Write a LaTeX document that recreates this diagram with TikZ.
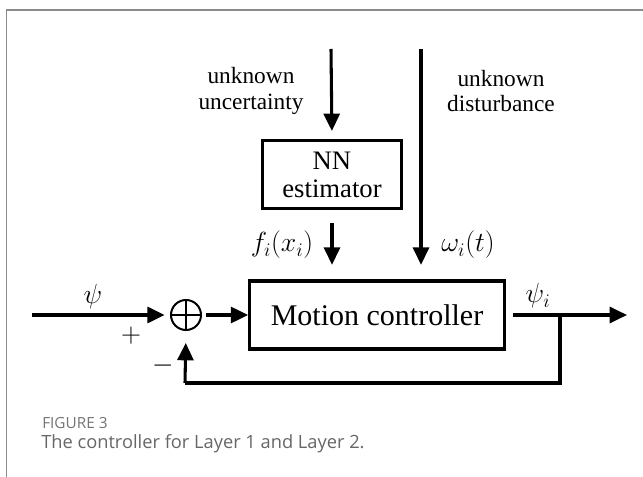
\documentclass[tikz,border=0pt]{standalone}
\usepackage{fontspec}
\setmainfont{Liberation Serif}
\newfontfamily\capfont{Open Sans}
\usepackage{tikz}
\usetikzlibrary{arrows.meta, positioning, calc}
\tikzset{
  blockbox/.style={rectangle, draw, line width=2.3pt, text centered},
  sumcircle/.style={circle, draw, line width=1.5pt, minimum size=22.5pt, inner sep=0pt,
                    path picture={
                      \draw[line width=1.5pt]
                        (path picture bounding box.north) -- (path picture bounding box.south)
                        (path picture bounding box.west) -- (path picture bounding box.east);}},
  arr/.style={-{Triangle[length=13pt, width=12pt]}, line width=2.3pt},
  plainline/.style={line width=2.3pt},
  sidelabel/.style={align=center, font=\fontsize{17.5}{19}\selectfont, inner sep=0pt},
  mathlabel/.style={font=\fontsize{22.5}{25}\selectfont, inner sep=0pt},
}

\begin{document}
\begin{tikzpicture}[x=0.75pt, y=-0.75pt]
  \useasboundingbox (0,0) rectangle (643,477);
  % figure frame
  \draw[black!45, line width=1.2pt] (6.5,477) -- (6.5,10) -- (643,10);

  % Nodes
  \node [blockbox, minimum width=104pt, minimum height=51pt, align=center,
         font=\fontsize{20}{21}\selectfont] (nn) at (332,174.5) {NN\\estimator};
  \node [blockbox, minimum width=191pt, minimum height=51pt,
         font=\fontsize{22.5}{24}\selectfont] (mc) at (377,315) {Motion controller};
  \node [sumcircle] (sum) at (186,315) {};

  % Free ends
  \coordinate (unc) at (331,49);
  \coordinate (dist) at (421,49);
  \coordinate (ref) at (32,315);
  \coordinate (branch) at (560,315);
  \coordinate (out) at (627,315);
  \coordinate (fbr) at (560,383);
  \coordinate (fbl) at (185,383);

  % Labels
  \node [sidelabel] (unctxt) at (251,91) {unknown\\uncertainty};
  \node [sidelabel] (disttxt) at (501,91) {unknown\\disturbance};
  \node [mathlabel] (flbl) at (282,245) {$f_i(x_i)$};
  \node [mathlabel] (wlbl) at (468,245) {$\omega_i(t)$};
  \node [mathlabel] (psi) at (93,297) {$\psi$};
  \node [mathlabel] (psii) at (538,296) {$\psi_i$};
  \node [mathlabel] (plus) at (131,336) {$+$};
  \node [mathlabel] (minus) at (163,366) {$-$};

  % Edges
  \draw [arr, shorten >=6pt] (unc) -- (nn.north);
  \draw [arr, shorten <=10pt, shorten >=11pt] (nn.south) -- (nn.south |- mc.north);
  \draw [arr, shorten >=11pt] (dist) -- (dist |- mc.north);
  \draw [arr, shorten >=4pt] (ref) -- (sum.west);
  \draw [arr, shorten <=3pt] (sum.east) -- (mc.west);
  \draw [arr, shorten <=5pt] (mc.east) -- (out);
  \draw [plainline] (branch) -- (fbr) -- (fbl);
  \draw [arr, shorten >=9pt] (fbl) -- (sum.south);

  % Caption
  \node [anchor=base west, inner sep=0pt, text=black!55,
         font=\capfont\fontsize{11.5}{12}\selectfont] (fignum) at (42,428) {FIGURE 3};
  \node [anchor=base west, inner sep=0pt, text=black!60,
         font=\capfont\fontsize{13.7}{16}\selectfont] (figcap) at (41,449)
    {The controller for Layer 1 and Layer 2.};
\end{tikzpicture}
\end{document}
